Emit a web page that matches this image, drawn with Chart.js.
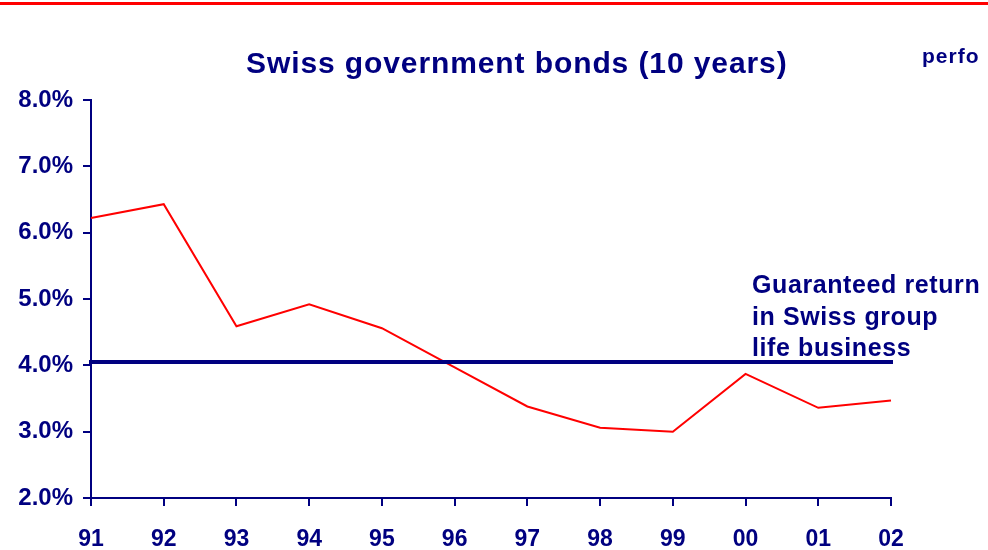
<!DOCTYPE html>
<html>
<head>
<meta charset="utf-8">
<script src="https://cdn.jsdelivr.net/npm/chart.js@4/dist/chart.umd.min.js"></script>
<style>
html,body{margin:0;padding:0;background:#fff;}
#wrap{position:relative;width:988px;height:550px;}
#topline{position:absolute;left:0;top:2px;width:988px;height:3px;background:#ff0000;}
canvas{position:absolute;left:0;top:0;}
</style>
</head>
<body>
<div id="wrap">
<canvas id="c" width="988" height="550"></canvas>
<div id="topline"></div>
</div>
<script>
const years = ['91','92','93','94','95','96','97','98','99','00','01','02'];
const bondYield = [6.22, 6.43, 4.59, 4.92, 4.56, 3.97, 3.38, 3.06, 3.00, 3.87, 3.36, 3.47];
const guaranteedReturn = [4.05, 4.05, 4.05, 4.05, 4.05, 4.05, 4.05, 4.05, 4.05, 4.05, 4.05, 4.05];
const yTicks = [2, 3, 4, 5, 6, 7, 8];
const titleText = 'Swiss government bonds (10 years)';
const noteLines = ['Guaranteed return', 'in Swiss group', 'life business'];
const cornerText = 'perfo';

const NAVY = '#000080';
const FONT = '"Liberation Sans", Arial, sans-serif';

const textPlugin = {
  id: 'texts',
  afterDraw(chart) {
    const ctx = chart.ctx;
    ctx.save();
    ctx.fillStyle = NAVY;
    ctx.textAlign = 'left';
    ctx.textBaseline = 'alphabetic';
    // title
    ctx.font = 'bold 30px ' + FONT;
    ctx.letterSpacing = '0.9px';
    ctx.fillText(titleText, 246, 73);
    // corner text
    ctx.font = 'bold 21px ' + FONT;
    ctx.letterSpacing = '1px';
    ctx.fillText(cornerText, 922, 63);
    // annotation
    ctx.font = 'bold 25px ' + FONT;
    ctx.letterSpacing = '0.6px';
    const base = [293, 325, 356];
    noteLines.forEach((t, i) => ctx.fillText(t, 752, base[i]));
    ctx.restore();
  }
};

new Chart(document.getElementById('c'), {
  type: 'line',
  data: {
    labels: years,
    datasets: [
      {
        data: guaranteedReturn,
        borderColor: NAVY,
        borderWidth: 4,
        borderCapStyle: 'square',
        pointRadius: 0,
        tension: 0
      },
      {
        data: bondYield,
        borderColor: '#ff0000',
        borderWidth: 2,
        pointRadius: 0,
        tension: 0
      }
    ]
  },
  options: {
    responsive: false,
    animation: false,
    devicePixelRatio: 1,
    layout: { padding: { left: 0, top: 100, right: 97, bottom: 0 } },
    plugins: { legend: { display: false }, tooltip: { enabled: false }, title: { display: false } },
    scales: {
      x: {
        offset: false,
        grid: { drawOnChartArea: false, drawTicks: true, tickLength: 8, color: NAVY, lineWidth: 2 },
        border: { color: NAVY, width: 2 },
        ticks: { color: NAVY, font: { family: FONT, size: 23, weight: 'bold' }, padding: 20, maxRotation: 0, autoSkip: false },
        afterFit(s) { s.height = 52; }
      },
      y: {
        min: 2, max: 8,
        afterBuildTicks(s) { s.ticks = yTicks.map(v => ({ value: v })); },
        grid: { drawOnChartArea: false, drawTicks: true, tickLength: 8, color: NAVY, lineWidth: 2 },
        border: { color: NAVY, width: 2 },
        ticks: { color: NAVY, font: { family: FONT, size: 24, weight: 'bold' }, padding: 10,
          callback: v => Number(v).toFixed(1) + '%' },
        afterFit(s) { s.width = 91; }
      }
    }
  },
  plugins: [textPlugin]
});
</script>
</body>
</html>
